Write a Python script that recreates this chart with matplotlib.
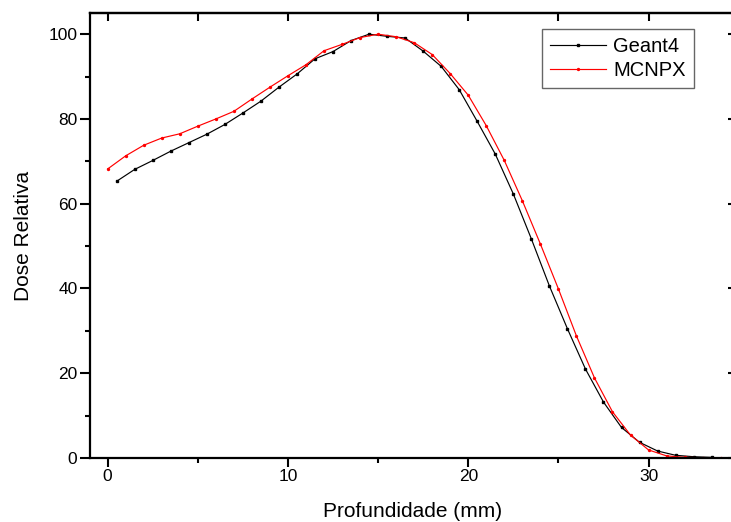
import numpy as np
import matplotlib
matplotlib.use("Agg")
import matplotlib.pyplot as plt
from matplotlib.ticker import MultipleLocator

# ============================================================
# 数据
# ============================================================

geant4_x = [0.5, 1.5, 2.5, 3.5, 4.5, 5.5, 6.5, 7.5, 8.5, 9.5, 10.5, 11.5, 12.5,
            13.5, 14.5, 15.5, 16.5, 17.5, 18.5, 19.5, 20.5, 21.5, 22.5, 23.5,
            24.5, 25.5, 26.5, 27.5, 28.5, 29.5, 30.5, 31.5, 32.5, 33.5]
geant4_y = [65.3, 68.1, 70.2, 72.4, 74.4, 76.4, 78.7, 81.4, 84.2, 87.5, 90.6, 94.2, 95.9,
            98.5, 100.0, 99.5, 99.1, 96.0, 92.4, 86.9, 79.4, 71.7, 62.3, 51.7,
            40.6, 30.5, 21.0, 13.2, 7.2, 3.7, 1.65, 0.64, 0.3, 0.15]

mcnpx_x = [0, 1, 2, 3, 4, 5, 6, 7, 8, 9, 10, 11, 12, 13, 14, 15, 16, 17,
           18, 19, 20, 21, 22, 23, 24, 25, 26, 27, 28, 29, 30, 31, 32, 33, 34]
mcnpx_y = [68.2, 71.3, 73.8, 75.5, 76.5, 78.3, 80.0, 81.8, 84.7, 87.5, 90.2, 92.8, 96.1,
           97.6, 99.2, 100.0, 99.4, 98.0, 95.2, 90.7, 85.6, 78.4, 70.2, 60.7,
           50.5, 39.9, 28.8, 18.9, 10.9, 5.4, 1.9, 0.5, 0.15, 0.07, 0.07]

plt.rcParams['font.family'] = ['Liberation Sans', 'DejaVu Sans']

fig = plt.figure(figsize=(7.31, 5.22), dpi=100)
ax = fig.add_axes([90 / 731, 1 - 458 / 522, (736 - 90) / 731, (458 - 13) / 522])

ax.plot(geant4_x, geant4_y, color='black', linewidth=0.85,
        marker='s', markersize=1.7, label='Geant4')
ax.plot(mcnpx_x, mcnpx_y, color='red', linewidth=0.85,
        marker='o', markersize=1.4, label='MCNPX')

ax.set_xlim(-0.98, 34.85)
ax.set_ylim(0, 105.0)

for s in ax.spines.values():
    s.set_linewidth(1.6)
ax.spines['right'].set_visible(False)

ax.xaxis.set_major_locator(MultipleLocator(10))
ax.xaxis.set_minor_locator(MultipleLocator(5))
ax.yaxis.set_major_locator(MultipleLocator(20))
ax.yaxis.set_minor_locator(MultipleLocator(10))

ax.tick_params(axis='x', which='major', direction='out', length=6.5, width=1.5,
               labelsize=12.5, pad=1.5)
ax.tick_params(axis='x', which='minor', direction='out', length=3.5, width=1.5)
ax.tick_params(axis='y', which='major', direction='out', length=7, width=1.5,
               labelsize=12.5, pad=2)
ax.tick_params(axis='y', which='minor', direction='out', length=3.5, width=1.5)

# 顶部刻度 (向内)
top = ax.secondary_xaxis('top')
top.set_xticks(np.arange(0, 35, 5))
top.tick_params(direction='in', length=6, width=1.5, labeltop=False)
top.spines['top'].set_linewidth(1.6)

# 右侧刻度 (向内, 只露出一点)
right = ax.secondary_yaxis('right')
right.set_yticks(np.arange(0, 101, 20))
right.tick_params(direction='in', length=6, width=1.5, labelright=False)
right.spines['right'].set_visible(False)

ax.set_xlabel('Profundidade (mm)', fontsize=15, labelpad=13)
ax.set_ylabel('Dose Relativa', fontsize=15, labelpad=11)

leg = ax.legend(loc='upper right', bbox_to_anchor=(694 / 731, 1 - 29 / 522),
                bbox_transform=fig.transFigure, fontsize=14.5, frameon=True,
                fancybox=False, edgecolor='#404040', handlelength=2.8,
                handletextpad=0.35, borderpad=0.4, labelspacing=0.25,
                borderaxespad=0)
leg.get_frame().set_linewidth(1.0)

fig.savefig('out.png', dpi=100)
